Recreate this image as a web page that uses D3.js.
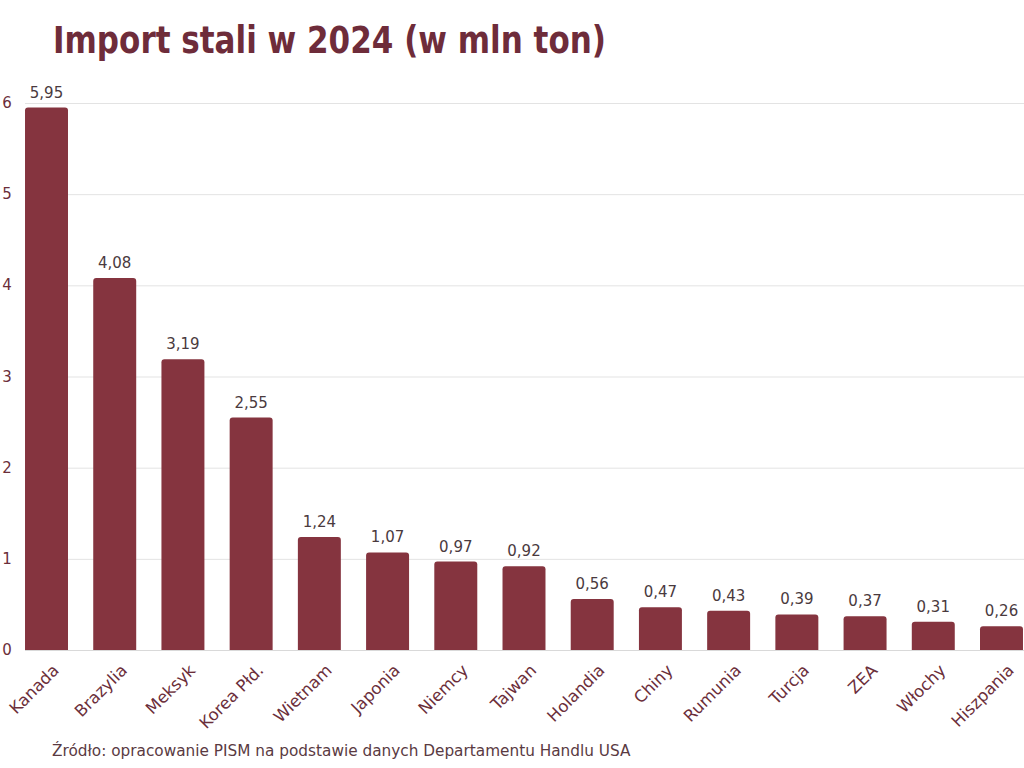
<!DOCTYPE html>
<html><head><meta charset="utf-8">
<script src="https://cdn.jsdelivr.net/npm/d3@7"></script>
<style>
html,body{margin:0;padding:0;background:#fff;}
svg{display:block;}
</style>
</head><body>
<svg id="chart" width="1024" height="768"></svg>
<script>
const categories = ["Kanada","Brazylia","Meksyk","Korea Płd.","Wietnam","Japonia","Niemcy","Tajwan","Holandia","Chiny","Rumunia","Turcja","ZEA","Włochy","Hiszpania"];
const values = [5.95,4.08,3.19,2.55,1.24,1.07,0.97,0.92,0.56,0.47,0.43,0.39,0.37,0.31,0.26];
const yTicks = [0,1,2,3,4,5,6];
const title = "Import stali w 2024 (w mln ton)";
const source = "Źródło: opracowanie PISM na podstawie danych Departamentu Handlu USA";

const FONT = "'DejaVu Sans',sans-serif";
const FONT_T = "'DejaVu Sans Condensed','DejaVu Sans',sans-serif";
const BAR = "#85343f";
const TXT = "#6b2e3a";
const svg = d3.select("#chart");

const x = d3.scaleBand().domain(categories).range([12.4, 1035.6]).paddingInner(0.37).paddingOuter(0.185);
const y = d3.scaleLinear().domain([0,6]).range([650,103]);

svg.append("text").attr("x",53).attr("y",53).attr("font-family",FONT_T).attr("font-weight","bold")
  .attr("font-size",37).attr("fill","#6e2c3a")
  .attr("textLength",553).attr("lengthAdjust","spacingAndGlyphs").text(title);

const grid = svg.append("g");
grid.selectAll("line").data(yTicks).join("line")
  .attr("x1",25).attr("x2",1024).attr("y1",d=>y(d)+0.5).attr("y2",d=>y(d)+0.5)
  .attr("stroke",d=>d===0?"#d9d9d9":"#e3e3e3").attr("stroke-width",1);
grid.selectAll("text").data(yTicks).join("text")
  .attr("x",7).attr("y",d=>y(d)+5).attr("text-anchor","middle")
  .attr("font-family",FONT).attr("font-size",15).attr("fill",TXT).text(d=>d);

svg.append("g").selectAll("path").data(values).join("path")
  .attr("fill",BAR)
  .attr("d",(d,i)=>{
    const x0 = x(categories[i]), w = x.bandwidth(), y0 = y(d), y1 = y(0), r = 3;
    return `M${x0},${y1}V${y0+r}Q${x0},${y0} ${x0+r},${y0}H${x0+w-r}Q${x0+w},${y0} ${x0+w},${y0+r}V${y1}Z`;
  });

svg.append("g").selectAll("text").data(values).join("text")
  .attr("x",(d,i)=>x(categories[i])+x.bandwidth()/2).attr("y",d=>y(d)-10)
  .attr("text-anchor","middle").attr("font-family",FONT).attr("font-size",15).attr("fill","#4a3a3e")
  .text(d=>d.toFixed(2).replace(".",","));

svg.append("g").selectAll("text").data(categories).join("text")
  .attr("transform",d=>`translate(${x(d)+x.bandwidth()/2+5},${663}) rotate(-45)`)
  .attr("text-anchor","end").attr("dy","0.72em").attr("font-family",FONT).attr("font-size",16.5).attr("fill",TXT)
  .text(d=>d);

svg.append("text").attr("x",52).attr("y",756).attr("font-family",FONT).attr("font-size",15.3)
  .attr("fill","#5a3a42").text(source);
</script>
</body></html>
